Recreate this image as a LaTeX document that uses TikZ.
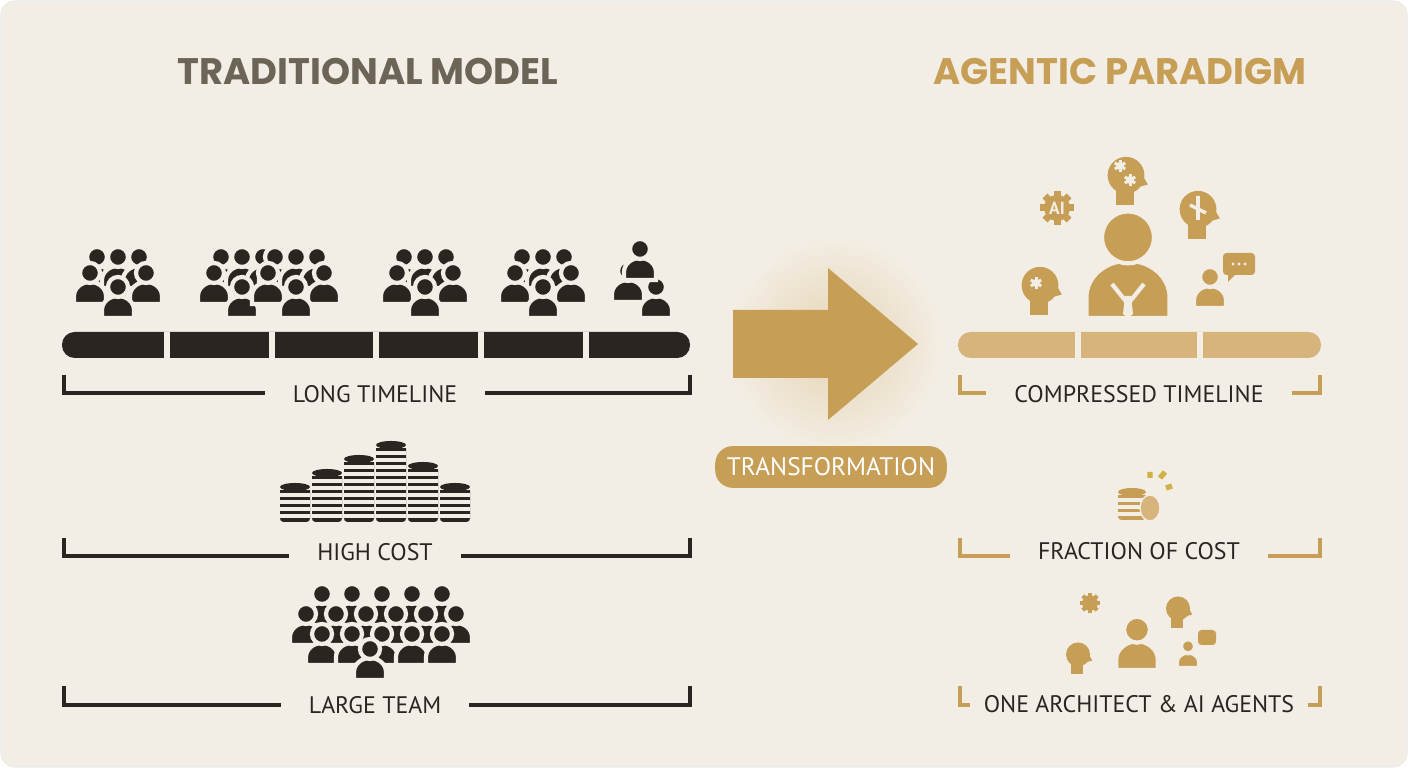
\documentclass[tikz,border=0pt]{standalone}
\usepackage{fontspec}
\setmainfont{PT Sans}
\newfontfamily\titlefont{Poppins}
\usetikzlibrary{positioning}

\definecolor{bg}{HTML}{F3EEE5}
\definecolor{ink}{HTML}{2A2521}
\definecolor{gold}{HTML}{C69E55}
\definecolor{lightgold}{HTML}{D6B47C}
\definecolor{titlegray}{HTML}{6D6458}

\tikzset{
  person/.pic={
    \fill[draw=bg,line width=1.2] (-16,0) -- (-16,-8) arc[start angle=180,end angle=360,x radius=16,y radius=14] -- (16,0) -- cycle;
    \fill[draw=bg,line width=1.2] (0,-31) circle (10);
  },
  grp/.pic={
    \foreach \x in {-21,0,21} \pic at (\x,-30) {person};
    \foreach \x in {-28,28} \pic at (\x,-14) {person};
    \pic at (0,0) {person};
  },
  lbl/.style={fill=bg,inner xsep=8pt,inner ysep=1pt,font=\fontsize{6.8}{8}\selectfont,text=ink},
  bracket/.style={line width=1.3},
  ttl/.style={font=\titlefont\bfseries\fontsize{10.5}{12}\selectfont},
  gear/.pic={
    \foreach \a in {0,45,...,315} \fill[rotate=\a] (-3.5,-17) rectangle (3.5,-10);
    \fill (0,0) circle (13);
  },
  head/.pic={
    \fill (0,-18) circle (16);
    \fill (-9,-8) rectangle (7,8);
    \fill (12,-22) -- (19,-10) -- (12,-8) -- cycle;
  },
  cog/.pic={
    \foreach \a in {0,60,...,300} \fill[bg,rotate=\a] (-1.5,-6) rectangle (1.5,-3);
    \fill[bg] (0,0) circle (4);
  },
}

\begin{document}
\begin{tikzpicture}[x=0.01cm,y=-0.01cm]
\useasboundingbox (0,0) rectangle (1408,768);
\fill[bg,draw=black!8,rounded corners=4pt] (1,1) rectangle (1407,767);

% titles
\node[ttl,text=titlegray] (tradT) at (368,72) {TRADITIONAL MODEL};
\node[ttl,text=gold] (agentT) at (1120,72) {AGENTIC PARADIGM};

% people over the long timeline
\begin{scope}[ink]
\pic at (118,318) {grp};
\pic at (242,318) {grp};
\pic at (296,318) {grp};
\pic at (425,318) {grp};
\pic at (543,318) {grp};
\pic at (628,302) {person};
\pic at (656,318) {person};
\pic at (640,280) {person};
\end{scope}

% long timeline
\fill[ink,rounded corners=3.6pt] (62,332) rectangle (690,358);
\foreach \x in {167,272,376,481,586} \draw[bg,line width=1.5] (\x,332) -- (\x,358);
\draw[bracket,ink] (64,375) -- (64,393) -- (690,393) -- (690,375);
\node[lbl] (longT) at (375,394) {LONG TIMELINE};

% coins
\foreach \x/\n in {295/5,327/7,359/9,391/11,423/8,455/5}{
  \fill[ink,rounded corners=1pt] (\x-15,522) rectangle (\x+15,522-7*\n);
  \foreach \k in {1,...,\n} \draw[bg,line width=0.9] (\x-15,522-7*\k+1) -- (\x+15,522-7*\k+1);
  \fill[ink] (\x,522-7*\n) ellipse (15 and 4);
}
\draw[bracket,ink] (64,538) -- (64,556) -- (690,556) -- (690,538);
\node[lbl] (costT) at (375,552) {HIGH COST};

% large team
\begin{scope}[ink]
\foreach \x in {322,352,382,412,442} \pic at (\x,625) {person};
\foreach \x in {306,336,366,396,426,456} \pic at (\x,645) {person};
\foreach \x in {322,352,382,412,442} \pic at (\x,665) {person};
\pic at (370,680) {person};
\end{scope}
\draw[bracket,ink] (64,686) -- (64,705) -- (690,705) -- (690,686);
\node[lbl] (teamT) at (375,705) {LARGE TEAM};

% transformation arrow
\shade[inner color=gold!45,outer color=bg] (835,344) circle (110);
\fill[gold] (733,310) -- (828,310) -- (828,268) -- (918,344) -- (828,420) -- (828,378) -- (733,378) -- cycle;
\node[fill=gold,rounded corners=5pt,minimum width=225*0.01cm,minimum height=36*0.01cm,text=white,font=\fontsize{7.2}{9}\selectfont] (trans) at (831,467) {TRANSFORMATION};

% agentic icons
\begin{scope}[gold]
\pic[scale=2.6] at (1128,318) {person};
\draw[bg,line width=1.2] (1112,284) -- (1128,304) -- (1144,284);
\fill[bg] (1125,296) -- (1131,296) -- (1133,314) -- (1128,318) -- (1123,314) -- cycle;
\pic[scale=1.15] at (1040,306) {head};
\pic at (1036,283) {cog};
\pic[scale=1.15] at (1198,230) {head};
\draw[bg,line width=1] (1198,196) -- (1198,220) (1190,205) -- (1206,213);
\pic[scale=1.15] at (1126,196) {head};
\pic at (1120,166) {cog};
\pic at (1130,180) {cog};
\pic at (1057,208) {gear};
\node[text=bg,font=\bfseries\fontsize{5}{6}\selectfont] (ai) at (1057,208) {AI};
\pic at (1210,308) {person};
\fill[rounded corners=1pt] (1223,253) rectangle (1255,275);
\fill (1228,274) -- (1228,282) -- (1236,274) -- cycle;
\foreach \x in {1233,1239,1245} \fill[bg] (\x,264) circle (1.6);
\end{scope}

% compressed timeline
\fill[lightgold,rounded corners=3.6pt] (958,332) rectangle (1321,358);
\foreach \x in {1078,1200} \draw[bg,line width=1.5] (\x,332) -- (\x,358);
\draw[bracket,gold] (960,375) -- (960,393) -- (1320,393) -- (1320,375);
\node[lbl] (compT) at (1139,394) {COMPRESSED TIMELINE};

% small coin stack
\fill[gold,rounded corners=1pt] (1118,520) rectangle (1146,492);
\foreach \k in {1,...,4} \draw[bg,line width=0.9] (1118,520-7*\k+1) -- (1146,520-7*\k+1);
\fill[gold] (1132,492) ellipse (14 and 4);
\fill[lightgold,draw=bg] (1150,508) ellipse (10 and 13);
\draw[gold!80!yellow,line width=1.5] (1160,478) -- (1165,472) (1150,478) -- (1150,472) (1166,488) -- (1172,486);
\draw[bracket,gold] (960,538) -- (960,556) -- (1320,556) -- (1320,538);
\node[lbl] (fracT) at (1139,551) {FRACTION OF COST};

% small architect group
\begin{scope}[gold]
\pic[scale=1.3] at (1137,670) {person};
\pic[scale=0.75] at (1078,668) {head};
\pic[scale=0.75] at (1178,622) {head};
\pic[scale=0.6] at (1090,603) {gear};
\pic[scale=0.7] at (1188,668) {person};
\fill[rounded corners=1pt] (1198,630) rectangle (1216,645);
\end{scope}
\draw[bracket,gold] (960,686) -- (960,705) -- (1320,705) -- (1320,686);
\node[lbl,inner xsep=4pt] (oneT) at (1139,704) {ONE ARCHITECT \& AI AGENTS};
\end{tikzpicture}
\end{document}
